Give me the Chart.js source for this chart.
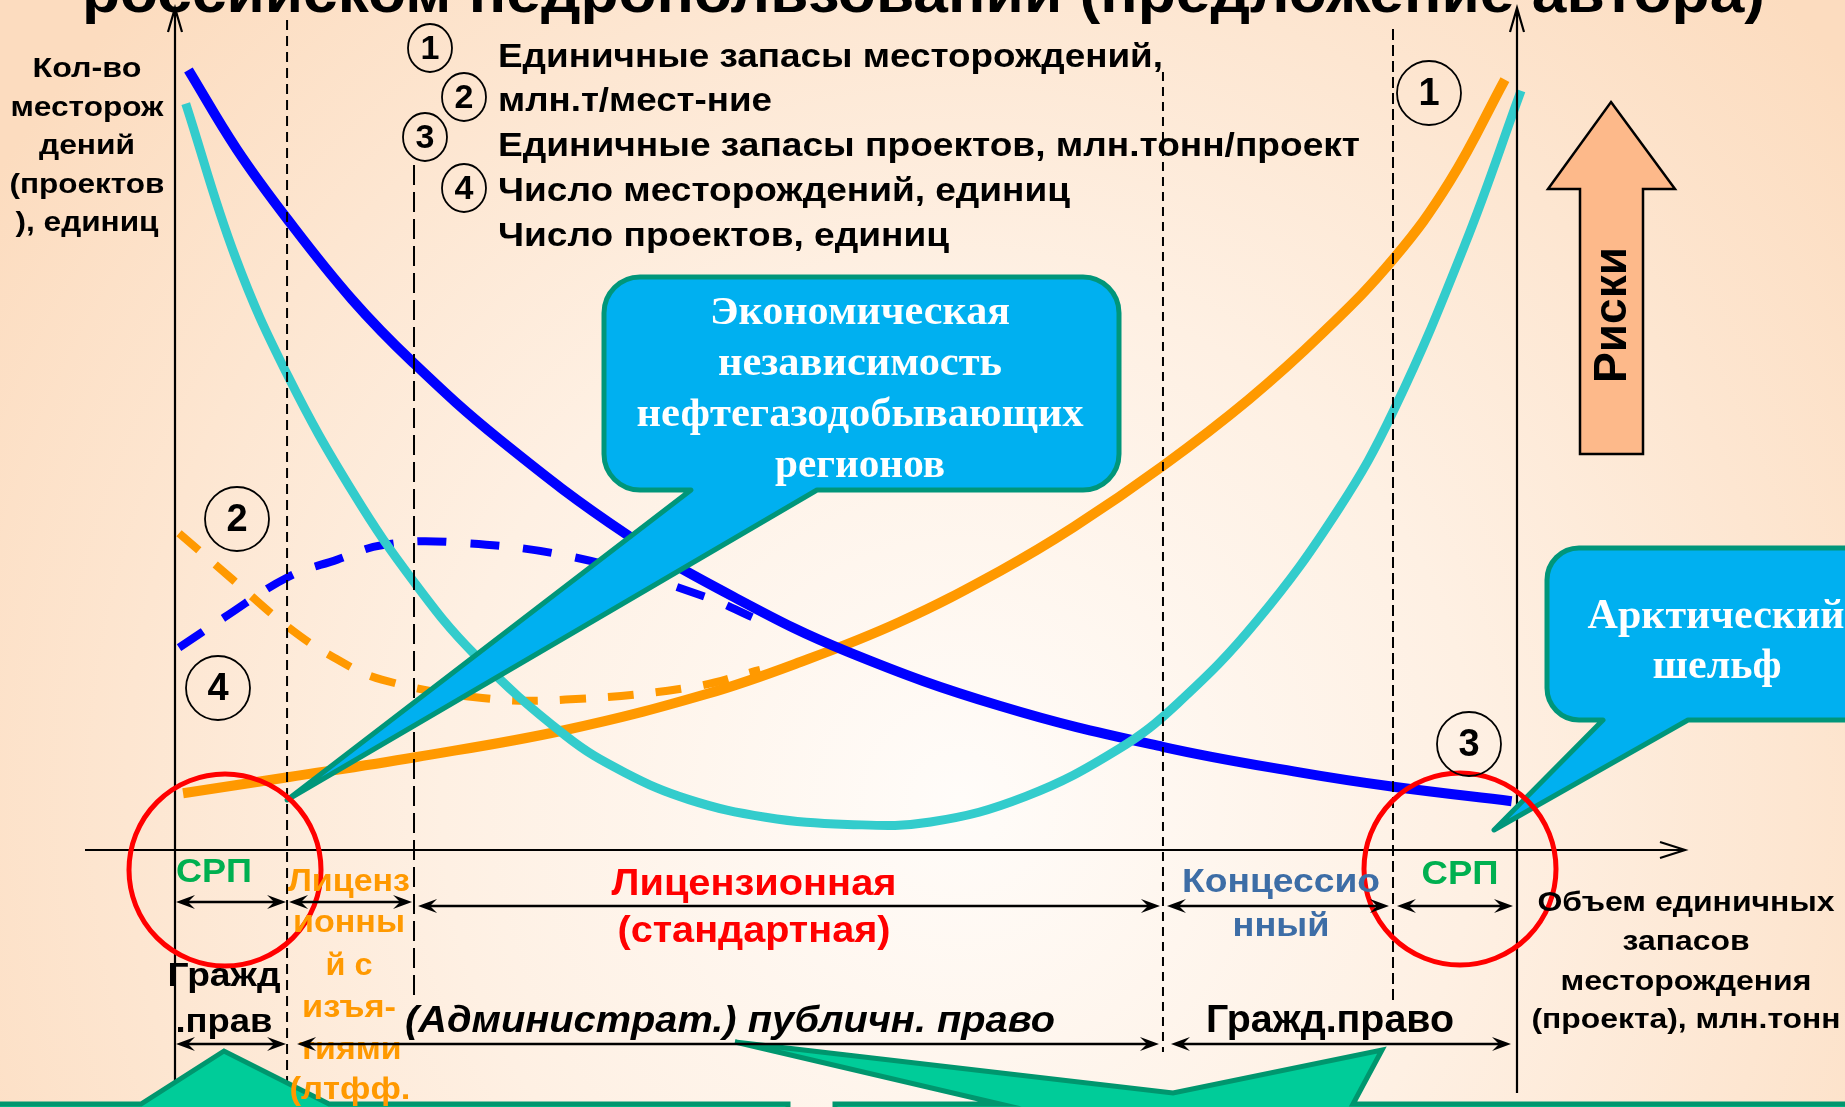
<!DOCTYPE html>
<html lang="ru">
<head>
<meta charset="utf-8">
<title>Формы недропользования</title>
<script src="https://cdn.jsdelivr.net/npm/chart.js@4.4.1/dist/chart.umd.min.js"></script>
<style>
html, body { margin: 0; padding: 0; overflow: hidden; background: #fde6d2; }
canvas { display: block; }
</style>
</head>
<body>
<canvas id="scheme" width="1845" height="1107"></canvas>
<script>
(function () {
    'use strict';
    /* global Chart */

    // x - объем единичных запасов, y - количество (условные единицы 0..100)
    var blueSolid = [[1.0, 97.5], [4.6, 87.6], [8.4, 78.8], [13.2, 68.8], [17.7, 61.0], [24.2, 51.3], [33.7, 39.4],
        [42.0, 31.3], [50.1, 24.8], [61.5, 18.0], [73.6, 12.9], [83.8, 9.7], [90.8, 7.9], [99.6, 6.1]];
    var cyanSolid = [[0.8, 93.3], [4.5, 74.1], [8.4, 59.3], [13.3, 44.6], [17.9, 33.3], [22.3, 24.5], [29.1, 14.3],
        [33.5, 9.7], [38.3, 6.3], [44.0, 4.1], [50.1, 3.2], [56.3, 3.5], [63.4, 6.7], [70.3, 12.6], [74.7, 18.3],
        [80.6, 28.6], [86.7, 42.6], [90.8, 54.9], [96.1, 75.6], [100.3, 94.9]];
    var orangeSolid = [[0.6, 7.1], [8.4, 9.1], [17.9, 11.6], [29.1, 15.0], [39.6, 19.5], [46.6, 23.5], [54.0, 28.5],
        [61.5, 34.9], [67.0, 40.4], [73.6, 48.0], [80.0, 56.3], [85.5, 64.6], [90.8, 73.9], [95.0, 83.6], [99.1, 96.3]];
    var blueDashed = [[0.3, 25.3], [3.7, 29.1], [8.4, 34.1], [12.1, 36.3], [15.4, 38.1], [20.4, 38.5], [30.0, 36.5],
        [39.6, 31.6], [43.0, 29.1]];
    var orangeDashed = [[0.3, 39.6], [4.3, 33.8], [8.4, 27.9], [11.8, 24.1], [15.4, 21.3], [22.9, 19.0], [29.1, 18.8],
        [38.3, 20.3], [43.6, 22.5]];

    // границы режимов: СРП | лицензии с изъятиями | лицензионная | концессия | СРП
    var zoneBounds = [0, 8.35, 17.81, 73.62, 90.76, 100];

    var SANS = '"Liberation Sans", Arial, sans-serif';
    var SERIF = '"Liberation Serif", "Times New Roman", serif';

    function series(points, color, width, dash) {
        return {
            data: points.map(function (p) { return {x: p[0], y: p[1]}; }),
            borderColor: color,
            borderWidth: width,
            borderDash: dash || [],
            borderJoinStyle: 'round',
            pointRadius: 0,
            tension: 0.4,
            fill: false,
            clip: false
        };
    }

    function text(ctx, str, x, y, font, color, width, align, baseline) {
        ctx.save();
        ctx.font = font;
        ctx.fillStyle = color || '#000';
        ctx.textAlign = align || 'center';
        ctx.textBaseline = baseline || 'middle';
        var sx = width ? width / ctx.measureText(str).width : 1;
        ctx.translate(x, y);
        ctx.scale(sx, 1);
        ctx.fillText(str, 0, 0);
        ctx.restore();
    }

    function head(ctx, x, y, dir) {
        ctx.beginPath();
        ctx.moveTo(x, y);
        ctx.lineTo(x - dir * 19, y - 7);
        ctx.lineTo(x - dir * 12, y);
        ctx.lineTo(x - dir * 19, y + 7);
        ctx.closePath();
        ctx.fill();
    }

    function span(ctx, xa, xb, y) {
        ctx.save();
        ctx.strokeStyle = '#000';
        ctx.fillStyle = '#000';
        ctx.lineWidth = 2.5;
        ctx.beginPath();
        ctx.moveTo(xa + 6, y);
        ctx.lineTo(xb - 6, y);
        ctx.stroke();
        head(ctx, xa, y, -1);
        head(ctx, xb, y, 1);
        ctx.restore();
    }

    function badge(ctx, n, x, y, rx, ry, size) {
        ctx.save();
        ctx.beginPath();
        ctx.ellipse(x, y, rx, ry, 0, 0, Math.PI * 2);
        ctx.lineWidth = 1.8;
        ctx.strokeStyle = '#000';
        ctx.stroke();
        ctx.restore();
        text(ctx, String(n), x, y + 2, 'bold ' + size + 'px ' + SANS, '#000');
    }

    function bubble(ctx, x0, y0, x1, y1, r, ta, tb, tx, ty) {
        ctx.save();
        ctx.beginPath();
        ctx.moveTo(x0 + r, y0);
        ctx.arcTo(x1, y0, x1, y0 + r, r);
        ctx.arcTo(x1, y1, x1 - r, y1, r);
        ctx.lineTo(tb, y1);
        ctx.lineTo(tx, ty);
        ctx.lineTo(ta, y1);
        ctx.arcTo(x0, y1, x0, y1 - r, r);
        ctx.arcTo(x0, y0, x0 + r, y0, r);
        ctx.closePath();
        ctx.fillStyle = '#00B0F0';
        ctx.fill();
        ctx.lineWidth = 5;
        ctx.strokeStyle = '#00967A';
        ctx.lineJoin = 'round';
        ctx.stroke();
        ctx.restore();
    }

    function polygon(ctx, pts, fill, stroke, lw) {
        ctx.save();
        ctx.beginPath();
        pts.forEach(function (p, i) { if (i) { ctx.lineTo(p[0], p[1]); } else { ctx.moveTo(p[0], p[1]); } });
        ctx.closePath();
        ctx.fillStyle = fill;
        ctx.fill();
        ctx.lineWidth = lw;
        ctx.strokeStyle = stroke;
        ctx.lineJoin = 'miter';
        ctx.stroke();
        ctx.restore();
    }

    var scheme = {
        id: 'scheme',
        beforeDraw: function (chart) {
            var ctx = chart.ctx;
            var g = ctx.createRadialGradient(960, 800, 0, 960, 800, 1150);
            g.addColorStop(0, '#FFFCF9');
            g.addColorStop(0.45, '#FEF0E3');
            g.addColorStop(1, '#FCDCBF');
            ctx.save();
            ctx.fillStyle = g;
            ctx.fillRect(0, 0, chart.width, chart.height);
            ctx.restore();
        },
        afterDatasetsDraw: function (chart) {
            var ctx = chart.ctx;
            var xs = chart.scales.x, ys = chart.scales.y;
            var x0 = xs.getPixelForValue(0), x100 = xs.getPixelForValue(100);
            var y0 = ys.getPixelForValue(0);
            var bx = zoneBounds.map(function (v) { return xs.getPixelForValue(v); });

            // пунктирные границы режимов
            var dashes = [null, {top: 20, bottom: 1107, dash: [10, 6]}, {top: 165, bottom: 995, dash: [20, 7]},
                {top: 72, bottom: 1052, dash: [9, 6]}, {top: 29, bottom: 1003, dash: [11, 5]}];
            ctx.save();
            ctx.strokeStyle = '#000';
            ctx.lineWidth = 2;
            dashes.forEach(function (d, i) {
                if (!d) { return; }
                ctx.setLineDash(d.dash);
                ctx.beginPath();
                ctx.moveTo(bx[i], d.top);
                ctx.lineTo(bx[i], d.bottom);
                ctx.stroke();
            });
            ctx.setLineDash([]);

            // оси
            ctx.lineWidth = 2.2;
            ctx.beginPath();
            ctx.moveTo(85, y0);
            ctx.lineTo(1684, y0);
            ctx.moveTo(1660, y0 - 8);
            ctx.lineTo(1685, y0);
            ctx.lineTo(1660, y0 + 8);
            ctx.moveTo(x0, 1107);
            ctx.lineTo(x0, 9);
            ctx.moveTo(x0 - 7, 32);
            ctx.lineTo(x0, 8);
            ctx.lineTo(x0 + 7, 32);
            ctx.moveTo(x100, 1093);
            ctx.lineTo(x100, 9);
            ctx.moveTo(x100 - 7, 32);
            ctx.lineTo(x100, 8);
            ctx.lineTo(x100 + 7, 32);
            ctx.stroke();
            ctx.restore();

            // выноски
            bubble(ctx, 604, 277, 1119, 490, 36, 691, 817, 287, 800);
            bubble(ctx, 1547, 548, 1905, 720, 32, 1603, 1688, 1494, 830);

            polygon(ctx, [[-10, 1104], [141, 1104], [224, 1051], [329, 1104], [788, 1104], [788, 1200], [-10, 1200]],
                '#00CC99', '#00966E', 5);
            polygon(ctx, [[835, 1104], [1000, 1104], [735, 1042], [1173, 1093], [1382, 1050], [1353, 1104],
                [1905, 1104], [1905, 1200], [835, 1200]], '#00CC99', '#00966E', 5);

            // красные круги
            ctx.save();
            ctx.strokeStyle = '#FF0000';
            ctx.lineWidth = 5;
            ctx.beginPath();
            ctx.arc(225, 870, 96, 0, Math.PI * 2);
            ctx.stroke();
            ctx.beginPath();
            ctx.arc(1460, 869, 96, 0, Math.PI * 2);
            ctx.stroke();
            ctx.restore();

            // номера кривых
            badge(ctx, 1, 430, 48, 22, 24, 34);
            badge(ctx, 2, 464, 97, 22, 24, 34);
            badge(ctx, 3, 425, 137, 22, 24, 34);
            badge(ctx, 4, 464, 188, 22, 24, 34);
            badge(ctx, 2, 237, 519, 32, 32, 38);
            badge(ctx, 4, 218, 688, 32, 32, 38);
            badge(ctx, 1, 1429, 93, 32, 32, 38);
            badge(ctx, 3, 1469, 744, 32, 32, 38);

            // стрелка рисков
            polygon(ctx, [[1611, 102], [1675, 189], [1643, 189], [1643, 454], [1580, 454], [1580, 189], [1548, 189]],
                '#FDB98A', '#000', 2.5);
            ctx.save();
            ctx.translate(1613, 315);
            ctx.rotate(-Math.PI / 2);
            text(ctx, 'Риски', 0, 0, 'bold 46px ' + SANS, '#000', 136);
            ctx.restore();

            // заголовок и легенда
            text(ctx, 'российском недропользовании (предложение автора)', 82, 12, 'bold 58px ' + SANS, '#000', 1683, 'left', 'alphabetic');
            var leg = 'bold 34px ' + SANS;
            text(ctx, 'Единичные запасы месторождений,', 498, 58, leg, '#000', 665, 'left');
            text(ctx, 'млн.т/мест-ние', 498, 102, leg, '#000', 274, 'left');
            text(ctx, 'Единичные запасы проектов, млн.тонн/проект', 498, 147, leg, '#000', 862, 'left');
            text(ctx, 'Число месторождений, единиц', 498, 192, leg, '#000', 572, 'left');
            text(ctx, 'Число проектов, единиц', 498, 237, leg, '#000', 451, 'left');

            var yl = 'bold 27px ' + SANS;
            text(ctx, 'Кол-во', 87, 70, yl, '#000', 109);
            text(ctx, 'месторож', 87, 109, yl, '#000', 153);
            text(ctx, 'дений', 87, 147, yl, '#000', 96);
            text(ctx, '(проектов', 87, 186, yl, '#000', 155);
            text(ctx, '), единиц', 87, 224, yl, '#000', 143);

            var cf = 'bold 40px ' + SERIF;
            text(ctx, 'Экономическая', 860, 314, cf, '#fff', 300);
            text(ctx, 'независимость', 860, 365, cf, '#fff', 284);
            text(ctx, 'нефтегазодобывающих', 860, 416, cf, '#fff', 447);
            text(ctx, 'регионов', 860, 467, cf, '#fff', 170);
            text(ctx, 'Арктический', 1716, 617, 'bold 42px ' + SERIF, '#fff');
            text(ctx, 'шельф', 1717, 667, 'bold 42px ' + SERIF, '#fff');

            // режимы недропользования
            text(ctx, 'СРП', 214, 873, 'bold 34px ' + SANS, '#00B050', 76);
            text(ctx, 'СРП', 1460, 875, 'bold 34px ' + SANS, '#00B050', 77);
            var of = 'bold 31px ' + SANS, oc = '#FF9900';
            text(ctx, 'Лиценз', 349, 882, of, oc, 122);
            text(ctx, 'ионны', 349, 923, of, oc, 112);
            text(ctx, 'й с', 349, 966, of, oc, 47);
            text(ctx, 'изъя-', 349, 1008, of, oc, 94);
            text(ctx, 'тиями', 350, 1050, of, oc, 103);
            text(ctx, '(лтфф.', 350, 1090, of, oc, 121);
            text(ctx, 'Лицензионная', 754, 885, 'bold 37px ' + SANS, '#FF0000', 285);
            text(ctx, '(стандартная)', 754, 932, 'bold 37px ' + SANS, '#FF0000', 273);
            text(ctx, 'Концессио', 1281, 883, 'bold 34px ' + SANS, '#3D6DA6', 198);
            text(ctx, 'нный', 1281, 927, 'bold 34px ' + SANS, '#3D6DA6', 97);

            var af = 'bold 28px ' + SANS;
            text(ctx, 'Объем единичных', 1686, 903, af, '#000', 297);
            text(ctx, 'запасов', 1686, 942, af, '#000', 127);
            text(ctx, 'месторождения', 1686, 982, af, '#000', 251);
            text(ctx, '(проекта), млн.тонн', 1686, 1020, af, '#000', 309);

            text(ctx, 'Гражд', 224, 977, 'bold 34px ' + SANS, '#000', 113);
            text(ctx, '.прав', 224, 1023, 'bold 34px ' + SANS, '#000', 97);
            text(ctx, '(Администрат.) публичн. право', 405, 1022, 'italic bold 36px ' + SANS, '#000', 650, 'left');
            text(ctx, 'Гражд.право', 1330, 1022, 'bold 38px ' + SANS, '#000', 248);

            span(ctx, bx[0] + 1, bx[1] - 1, 902);
            span(ctx, bx[1] + 2, bx[2] - 2, 902);
            span(ctx, bx[2] + 4, bx[3] - 3, 906);
            span(ctx, bx[3] + 4, bx[4] - 4, 906);
            span(ctx, bx[4] + 4, bx[5] - 4, 906);
            span(ctx, bx[0] + 1, bx[1] - 1, 1044);
            span(ctx, bx[1] + 10, bx[3] - 4, 1044);
            span(ctx, bx[3] + 8, bx[5] - 6, 1044);
        }
    };

    new Chart(document.getElementById('scheme'), {
        type: 'line',
        data: {
            datasets: [
                series(cyanSolid, '#33CCCC', 9),
                series(blueSolid, '#0000FF', 10),
                series(blueDashed, '#0000FF', 8, [29, 24]),
                series(orangeDashed, '#FF9900', 8, [26, 22]),
                series(orangeSolid, '#FF9900', 10)
            ]
        },
        options: {
            responsive: false,
            animation: false,
            devicePixelRatio: 1,
            layout: {padding: {left: 175, right: 328, top: 50, bottom: 257}},
            plugins: {legend: {display: false}, tooltip: {enabled: false}, title: {display: false}},
            events: [],
            scales: {
                x: {type: 'linear', min: 0, max: 100, display: false},
                y: {type: 'linear', min: 0, max: 100, display: false}
            }
        },
        plugins: [scheme]
    });
})();
</script>
</body>
</html>
